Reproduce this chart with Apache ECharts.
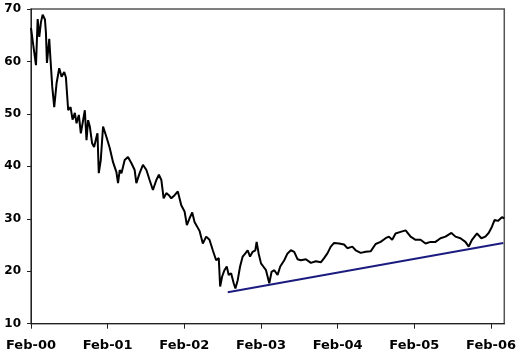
<!DOCTYPE html>
<html>
<head>
<meta charset="utf-8">
<script src="https://cdn.jsdelivr.net/npm/echarts@6/dist/echarts.min.js"></script>
<style>html,body{margin:0;padding:0;background:#fff}#c{width:519px;height:357px}</style>
</head>
<body>
<div id="c"></div>
<script>
// Years since Feb-2000
const years = [0,0.026,0.065,0.087,0.108,0.130,0.152,0.182,0.195,0.208,0.238,0.256,0.277,0.303,0.334,0.368,0.399,0.433,0.455,0.485,0.516,0.542,0.572,0.594,0.624,0.650,0.680,0.702,0.724,0.745,0.767,0.797,0.823,0.854,0.867,0.884,0.910,0.940,0.962,0.984,1.027,1.070,1.114,1.135,1.157,1.180,1.222,1.265,1.310,1.352,1.374,1.417,1.460,1.505,1.547,1.590,1.635,1.668,1.700,1.730,1.765,1.798,1.830,1.873,1.915,1.938,1.960,2.003,2.033,2.068,2.103,2.133,2.198,2.241,2.285,2.328,2.371,2.415,2.449,2.467,2.493,2.523,2.553,2.579,2.610,2.644,2.666,2.696,2.727,2.761,2.796,2.826,2.857,2.891,2.926,2.943,2.969,3.000,3.030,3.065,3.108,3.138,3.173,3.216,3.251,3.303,3.346,3.390,3.433,3.476,3.520,3.585,3.650,3.715,3.780,3.823,3.866,3.910,3.953,4.018,4.083,4.126,4.191,4.235,4.300,4.321,4.365,4.430,4.495,4.560,4.625,4.668,4.711,4.755,4.820,4.886,4.951,5.016,5.081,5.146,5.211,5.276,5.341,5.406,5.484,5.536,5.601,5.666,5.709,5.752,5.817,5.874,5.926,5.969,6.012,6.047,6.090,6.142,6.173];
const prices = [66.4,63.5,59.3,68.1,64.7,67.5,68.9,68.0,65.4,59.7,64.3,60.0,55.2,51.3,55.9,58.7,57.1,58.0,57.0,50.7,51.3,48.9,50.2,48.2,49.8,46.3,48.8,50.7,45.0,48.8,47.6,44.4,43.7,45.6,46.3,38.7,41.2,47.6,47.9,45.6,43.5,40.8,38.9,36.8,39.3,38.7,41.2,41.8,40.6,39.3,36.8,38.7,40.3,39.3,37.4,35.5,37.4,38.4,37.4,33.9,34.9,34.5,33.9,34.5,35.2,35.2,32.6,31.4,28.8,30.1,31.2,29.4,27.7,25.3,26.6,26.0,24.0,22.1,22.5,17.1,19.0,20.2,20.9,19.3,19.6,17.7,16.7,18.3,20.9,22.8,23.4,24.0,22.8,23.7,24.0,25.6,23.4,21.5,20.9,20.2,17.7,19.9,20.2,19.3,20.9,22.1,23.4,24.0,23.7,22.3,22.1,22.3,21.6,21.9,21.7,22.5,23.4,24.7,25.4,25.3,25.1,24.4,24.7,24.0,23.5,23.3,23.7,23.8,25.2,25.6,26.3,26.6,26.0,27.2,27.5,27.8,26.6,26.0,26.0,25.3,25.6,25.6,26.3,26.6,27.3,26.6,26.3,25.6,24.7,26.0,27.2,26.3,26.6,27.3,28.5,29.8,29.6,30.3,30.1];
const tickLabels = ['Feb-00','Feb-01','Feb-02','Feb-03','Feb-04','Feb-05','Feb-06'];
const trendStart = [2.566, 16.0];
const trendEnd = [6.16, 25.4];
const xMax = 6.173;

const chart = echarts.init(document.getElementById('c'), null, {renderer:'canvas'});
const font = {fontFamily:'DejaVu Sans', fontWeight:'bold', color:'#000'};
chart.setOption({
  animation:false,
  grid:{left:31, right:13.3, top:9, bottom:33.3, show:true, borderColor:'#555', borderWidth:1.5, backgroundColor:'#fff'},
  xAxis:{type:'value', min:0, max:xMax, interval:1,
    axisLine:{show:true, onZero:false, lineStyle:{color:'#222', width:1}},
    axisTick:{show:true, length:5, lineStyle:{color:'#222'}},
    splitLine:{show:false},
    axisLabel:Object.assign({margin:15, fontSize:13, showMaxLabel:false, formatter:v=>tickLabels[Math.round(v)]||''}, font)},
  yAxis:{type:'value', min:10, max:70, interval:10,
    axisLine:{show:true, lineStyle:{color:'#222', width:1}},
    axisTick:{show:true, length:4, lineStyle:{color:'#222'}},
    splitLine:{show:false},
    axisLabel:Object.assign({margin:10, fontSize:12}, font)},
  series:[{
    type:'line', data:years.map((t,i)=>[t,prices[i]]), symbol:'none',
    lineStyle:{color:'#000', width:2}, z:3,
    markLine:{silent:true, symbol:['none','arrow'], symbolSize:[0,9],
      label:{show:false},
      lineStyle:{color:'#1c1c80', width:2, type:'solid'},
      data:[[{coord:trendStart},{coord:trendEnd}]]}
  }]
});
</script>
</body>
</html>
